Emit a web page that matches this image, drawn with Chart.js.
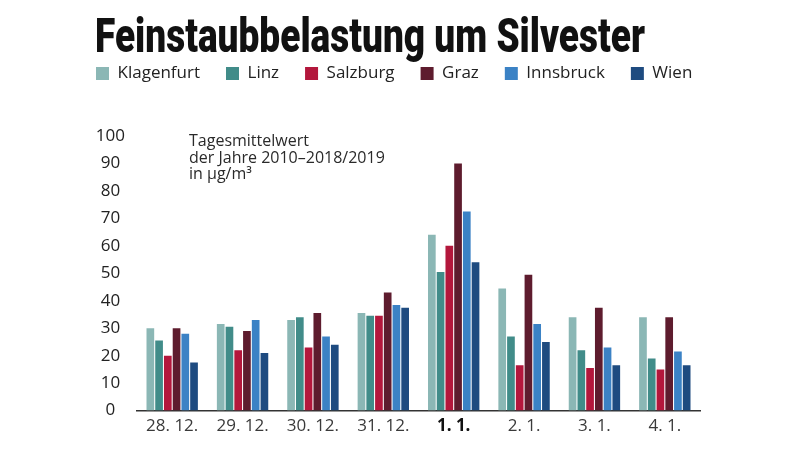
<!DOCTYPE html>
<html>
<head>
<meta charset="utf-8">
<script src="https://cdn.jsdelivr.net/npm/chart.js@4/dist/chart.umd.min.js"></script>
<style>
  html, body { margin: 0; padding: 0; background: #ffffff; }
  #wrap { width: 800px; height: 452px; position: relative; }
</style>
</head>
<body>
<div id="wrap"><canvas id="c" width="800" height="452"></canvas></div>
<script>
const titleText = 'Feinstaubbelastung um Silvester';
const noteLines = ['Tagesmittelwert', 'der Jahre 2010–2018/2019', 'in µg/m³'];
const categories = ['28. 12.', '29. 12.', '30. 12.', '31. 12.', '1. 1.', '2. 1.', '3. 1.', '4. 1.'];
const seriesNames = ['Klagenfurt', 'Linz', 'Salzburg', 'Graz', 'Innsbruck', 'Wien'];
const klagenfurt = [30, 31.5, 33, 35.5, 64, 44.5, 34, 34];
const linz       = [25.5, 30.5, 34, 34.5, 50.5, 27, 22, 19];
const salzburg   = [20, 22, 23, 34.5, 60, 16.5, 15.5, 15];
const graz       = [30, 29, 35.5, 43, 90, 49.5, 37.5, 34];
const innsbruck  = [28, 33, 27, 38.5, 72.5, 31.5, 23, 21.5];
const wien       = [17.5, 21, 24, 37.5, 54, 25, 16.5, 16.5];
const yTicks = [0, 10, 20, 30, 40, 50, 60, 70, 80, 90, 100];
const highlightCategory = '1. 1.';

const colors = ['#8bb7b5', '#418c89', '#b3173c', '#5e1c2e', '#3b82c5', '#1e4b80'];
const values = [klagenfurt, linz, salzburg, graz, innsbruck, wien];

const FONT = '"Open Sans", "Noto Sans", sans-serif';

const titlePlugin = {
  id: 'titleAndNote',
  afterDraw(chart) {
    const ctx = chart.ctx;
    ctx.save();
    ctx.fillStyle = '#111111';
    ctx.textBaseline = 'alphabetic';
    ctx.textAlign = 'left';
    ctx.font = '900 48px Roboto, "DejaVu Sans", sans-serif';
    const w = ctx.measureText(titleText).width;
    ctx.translate(95, 52);
    ctx.scale(550 / w, 1);
    ctx.fillText(titleText, 0, 0);
    ctx.restore();

    ctx.save();
    ctx.fillStyle = '#2a2a2a';
    ctx.font = '16px ' + FONT;
    ctx.textAlign = 'left';
    ctx.textBaseline = 'alphabetic';
    const x0 = chart.chartArea.left + 52;
    noteLines.forEach((l, i) => ctx.fillText(l, x0, 146 + i * 16.5));
    ctx.restore();
  }
};

const legendFit = {
  id: 'legendFit',
  beforeInit(chart) {
    const orig = chart.legend.fit;
    chart.legend.fit = function () {
      orig.bind(chart.legend)();
      this.height = 97;
    };
  }
};

new Chart(document.getElementById('c'), {
  type: 'bar',
  data: {
    labels: categories,
    datasets: seriesNames.map((name, i) => ({
      label: name,
      data: values[i],
      backgroundColor: colors[i],
      borderWidth: 0,
      barPercentage: 0.88,
      categoryPercentage: 0.745
    }))
  },
  options: {
    responsive: false,
    animation: false,
    layout: { padding: { left: 70, right: 20, top: 39, bottom: 11 } },
    plugins: {
      legend: {
        position: 'top',
        align: 'start',
        labels: {
          boxWidth: 13,
          boxHeight: 13,
          padding: 26,
          color: '#222222',
          font: { family: FONT, size: 17 }
        }
      },
      title: { display: false },
      tooltip: { enabled: false }
    },
    scales: {
      x: {
        grid: { display: false, drawTicks: false },
        border: { display: true, color: '#333333', width: 1.6 },
        ticks: {
          padding: 5,
          color: (c) => (categories[c.index] === highlightCategory ? '#111111' : '#3a3a3a'),
          font: (c) => ({
            family: FONT,
            size: 17,
            weight: categories[c.index] === highlightCategory ? 'bold' : 'normal'
          })
        }
      },
      y: {
        min: 0,
        max: 100,
        afterBuildTicks(scale) { scale.ticks = yTicks.map(v => ({ value: v })); },
        afterFit(scale) { scale.width = 67; },
        grid: { display: false, drawTicks: false },
        border: { display: false },
        ticks: {
          padding: 12,
          crossAlign: 'center',
          color: '#222222',
          font: { family: FONT, size: 17 }
        }
      },
      spacer: {
        type: 'linear',
        position: 'right',
        display: true,
        min: 0,
        max: 100,
        afterFit(scale) { scale.width = 80; },
        grid: { display: false, drawTicks: false },
        border: { display: false },
        ticks: { display: false }
      }
    }
  },
  plugins: [legendFit, titlePlugin]
});
</script>
</body>
</html>
